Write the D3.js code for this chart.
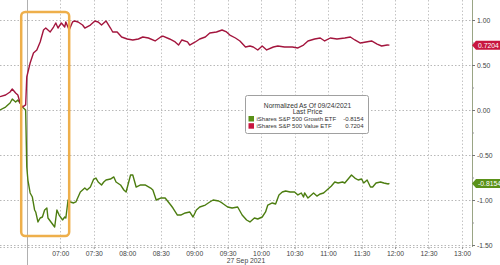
<!DOCTYPE html>
<html>
<head>
<meta charset="utf-8">
<script src="https://cdn.jsdelivr.net/npm/d3@7"></script>
<style>
  html, body { margin: 0; padding: 0; background: #fff; }
  svg { display: block; font-family: "Liberation Sans", Arial, sans-serif; }
</style>
</head>
<body>
<div id="chart"></div>
<script>
// values, 27 Sep 2021, normalized as of 09/24/2021
const valueSeries = [
  ["06:06", 0.148], ["06:11", 0.167], ["06:15", 0.20], ["06:17", 0.233], ["06:20", 0.189],
  ["06:22", 0.167], ["06:24", 0.078], ["06:26", 0.033], ["06:29", 0.056], ["06:30", 0.367],
  ["06:33", 0.522], ["06:36", 0.633], ["06:39", 0.667], ["06:42", 0.756], ["06:45", 0.889],
  ["06:47", 0.911], ["06:51", 0.867], ["06:54", 0.922], ["06:56", 0.967], ["06:58", 0.911],
  ["07:01", 0.967], ["07:04", 0.922], ["07:05", 0.978], ["07:08", 0.889], ["07:11", 0.978],
  ["07:13", 0.989], ["07:16", 0.978], ["07:20", 0.944], ["07:22", 0.911], ["07:27", 0.944],
  ["07:31", 0.989], ["07:34", 0.978], ["07:37", 0.944], ["07:41", 0.989], ["07:45", 0.911],
  ["07:47", 0.867], ["07:51", 0.867], ["07:55", 0.811], ["08:00", 0.789], ["08:05", 0.778],
  ["08:10", 0.789], ["08:14", 0.811], ["08:19", 0.80], ["08:25", 0.767], ["08:30", 0.811],
  ["08:32", 0.822], ["08:38", 0.789], ["08:43", 0.756], ["08:46", 0.722], ["08:49", 0.778],
  ["08:54", 0.756], ["08:56", 0.722], ["09:01", 0.756], ["09:05", 0.789], ["09:10", 0.811],
  ["09:14", 0.856], ["09:20", 0.867], ["09:25", 0.889], ["09:29", 0.867], ["09:32", 0.833],
  ["09:37", 0.80], ["09:41", 0.767], ["09:46", 0.70], ["09:50", 0.711], ["09:53", 0.70],
  ["09:57", 0.667], ["10:01", 0.711], ["10:05", 0.667], ["10:11", 0.70], ["10:15", 0.711],
  ["10:21", 0.70], ["10:28", 0.70], ["10:33", 0.689], ["10:38", 0.722], ["10:42", 0.767],
  ["10:48", 0.789], ["10:53", 0.80], ["10:57", 0.767], ["11:02", 0.80], ["11:08", 0.789],
  ["11:15", 0.80], ["11:20", 0.811], ["11:24", 0.778], ["11:29", 0.744], ["11:34", 0.756],
  ["11:39", 0.767], ["11:44", 0.733], ["11:48", 0.711], ["11:53", 0.722], ["11:55", 0.7204]
];

const growthSeries = [
  ["06:06", 0.00], ["06:11", 0.033], ["06:15", 0.078], ["06:17", 0.122], ["06:20", 0.089],
  ["06:22", 0.111], ["06:24", 0.078], ["06:26", 0.033], ["06:29", 0.00], ["06:30", -0.633],
  ["06:31", -0.778], ["06:33", -0.922], ["06:35", -0.967], ["06:37", -1.111], ["06:38", -1.133],
  ["06:40", -1.244], ["06:42", -1.20], ["06:44", -1.189], ["06:46", -1.111], ["06:48", -1.089],
  ["06:49", -1.20], ["06:51", -1.233], ["06:53", -1.267], ["06:55", -1.30], ["06:57", -1.111],
  ["06:59", -1.167], ["07:02", -1.222], ["07:04", -1.189], ["07:05", -1.20], ["07:07", -1.00],
  ["07:09", -1.022], ["07:12", -1.033], ["07:14", -1.022], ["07:18", -0.911], ["07:22", -0.867],
  ["07:24", -0.889], ["07:27", -0.856], ["07:30", -0.767], ["07:32", -0.756], ["07:34", -0.80],
  ["07:37", -0.833], ["07:39", -0.80], ["07:41", -0.778], ["07:45", -0.767], ["07:48", -0.744],
  ["07:50", -0.80], ["07:54", -0.833], ["07:57", -0.889], ["07:59", -0.911], ["08:03", -0.722],
  ["08:05", -0.722], ["08:08", -0.856], ["08:12", -0.833], ["08:16", -0.833], ["08:21", -0.867],
  ["08:23", -0.889], ["08:26", -1.00], ["08:30", -0.978], ["08:34", -0.978], ["08:39", -1.056],
  ["08:41", -1.089], ["08:45", -1.167], ["08:48", -1.167], ["08:52", -1.144], ["08:56", -1.133],
  ["08:59", -1.189], ["09:02", -1.111], ["09:05", -1.078], ["09:10", -1.056], ["09:14", -1.022],
  ["09:17", -1.00], ["09:22", -1.011], ["09:25", -1.033], ["09:30", -1.078], ["09:34", -1.089],
  ["09:39", -1.078], ["09:43", -1.167], ["09:47", -1.222], ["09:50", -1.244], ["09:54", -1.20],
  ["09:57", -1.211], ["10:01", -1.189], ["10:04", -1.133], ["10:06", -1.056], ["10:10", -1.033],
  ["10:13", -1.044], ["10:16", -0.944], ["10:19", -0.911], ["10:22", -0.90], ["10:26", -0.911],
  ["10:30", -0.911], ["10:33", -0.944], ["10:36", -0.922], ["10:38", -0.967], ["10:39", -0.922],
  ["10:42", -0.978], ["10:45", -0.944], ["10:47", -0.922], ["10:50", -0.956], ["10:53", -0.933],
  ["10:56", -0.922], ["10:57", -0.911], ["11:00", -0.878], ["11:03", -0.844], ["11:06", -0.80],
  ["11:09", -0.811], ["11:13", -0.80], ["11:15", -0.811], ["11:18", -0.767], ["11:21", -0.722],
  ["11:24", -0.756], ["11:27", -0.778], ["11:30", -0.767], ["11:32", -0.811], ["11:35", -0.778],
  ["11:38", -0.856], ["11:40", -0.856], ["11:43", -0.811], ["11:47", -0.80], ["11:50", -0.811],
  ["11:54", -0.822], ["11:55", -0.8154]
];

const timeTicks = ["07:00", "07:30", "08:00", "08:30", "09:00", "09:30", "10:00",
                   "10:30", "11:00", "11:30", "12:00", "12:30", "13:00"];
const valueTicks = [1.0, 0.5, 0.0, -0.5, -1.0, -1.5];
const legendTitle = ["Normalized As Of 09/24/2021", "Last Price"];
const seriesNames = ["iShares S&P 500 Growth ETF", "iShares S&P 500 Value ETF"];
const lastValues = [-0.8154, 0.7204];
const dateLabel = "27 Sep 2021";
const highlight = { from: "06:25", to: "07:08", top: 1.09, bottom: -1.40 };

const width = 500, height = 265;
const plotRight = 472, plotBottom = 247;
const parse = d3.timeParse("%H:%M");

const x = d3.scaleTime()
            .domain([parse("06:06"), parse("13:09")])
            .range([0, plotRight]);
const y = d3.scaleLinear()
            .domain([-1.5, 1.0])
            .range([245, 20]);

const svg = d3.select("#chart")
              .append("svg")
              .attr("width", width)
              .attr("height", height);

// grid
svg.append("g")
   .selectAll("line")
   .data(valueTicks)
   .join("line")
   .attr("x1", 0).attr("x2", plotRight)
   .attr("y1", d => y(d) + 0.5).attr("y2", d => y(d) + 0.5)
   .attr("stroke", "#b8b8b8")
   .attr("stroke-dasharray", "1.5,2");

svg.append("g")
   .selectAll("line")
   .data(timeTicks)
   .join("line")
   .attr("x1", d => Math.round(x(parse(d))) + 0.5)
   .attr("x2", d => Math.round(x(parse(d))) + 0.5)
   .attr("y1", 0).attr("y2", plotBottom)
   .attr("stroke", "#c4c4c4")
   .attr("stroke-dasharray", "1.5,2");

// bottom axis line + session separator at the open
svg.append("line")
   .attr("x1", 0).attr("x2", plotRight)
   .attr("y1", plotBottom + 0.5).attr("y2", plotBottom + 0.5)
   .attr("stroke", "#b8b8b8")
   .attr("stroke-dasharray", "1.5,2");

svg.append("line")
   .attr("x1", Math.round(x(parse("06:30"))) + 0.5)
   .attr("x2", Math.round(x(parse("06:30"))) + 0.5)
   .attr("y1", 0).attr("y2", height)
   .attr("stroke", "#b0b0b0");

// bottom ticks and labels
const xAxis = d3.axisBottom(x)
                .tickValues(timeTicks.map(parse))
                .tickFormat(d3.timeFormat("%H:%M"))
                .tickSize(2);
const gx = svg.append("g")
              .attr("transform", `translate(0,${plotBottom})`)
              .call(xAxis);
gx.select(".domain").remove();
gx.selectAll(".tick line").attr("stroke", "#999");
gx.selectAll("text")
  .attr("y", 4)
  .attr("fill", "#444")
  .style("font-size", "6.8px");

svg.append("text")
   .attr("x", x(parse("09:30")) - 1)
   .attr("y", 263)
   .attr("fill", "#444")
   .style("font-size", "6.8px")
   .text(dateLabel);

// right axis
const yAxis = d3.axisRight(y)
                .tickValues(valueTicks)
                .tickFormat(d => d.toFixed(2))
                .tickSize(3)
                .tickPadding(2);
const gy = svg.append("g")
              .attr("transform", `translate(${plotRight},0)`)
              .call(yAxis);
gy.select(".domain").attr("d", `M0.5,0V${plotBottom}`).attr("stroke", "#9aa585");
gy.selectAll(".tick line").attr("stroke", "#777").attr("x1", 0);
gy.selectAll("text").attr("fill", "#444").style("font-size", "6.8px");

const minor = d3.range(-1.25, 1.2, 0.5);
svg.append("g")
   .selectAll("line")
   .data(minor)
   .join("line")
   .attr("x1", plotRight).attr("x2", plotRight + 2)
   .attr("y1", d => y(d) + 0.5).attr("y2", d => y(d) + 0.5)
   .attr("stroke", "#999");

// lines
const line = d3.line()
               .x(d => x(parse(d[0])))
               .y(d => y(d[1]));

const colors = ["#4c7d10", "#a3153d"];

svg.append("path")
   .datum(growthSeries)
   .attr("fill", "none")
   .attr("stroke", colors[0])
   .attr("stroke-width", 1.4)
   .attr("stroke-linejoin", "round")
   .attr("d", line);

svg.append("path")
   .datum(valueSeries)
   .attr("fill", "none")
   .attr("stroke", colors[1])
   .attr("stroke-width", 1.4)
   .attr("stroke-linejoin", "round")
   .attr("d", line);

// highlight box
svg.append("rect")
   .attr("x", x(parse(highlight.from)))
   .attr("y", y(highlight.top))
   .attr("width", x(parse(highlight.to)) - x(parse(highlight.from)))
   .attr("height", y(highlight.bottom) - y(highlight.top))
   .attr("rx", 4)
   .attr("fill", "none")
   .attr("stroke", "#eeaf4b")
   .attr("stroke-width", 2.5);

// last value tags
const tags = svg.append("g")
                .selectAll("g")
                .data(lastValues)
                .join("g")
                .attr("transform", d => `translate(${plotRight},${y(d)})`);
tags.append("path")
    .attr("d", "M0,0L4,-4.5H28V4.5H4Z")
    .attr("fill", (d, i) => i === 0 ? "#5a9118" : "#c8163f");
tags.append("text")
    .attr("x", 6)
    .attr("y", 2.4)
    .attr("fill", "#fff")
    .style("font-size", "6.8px")
    .text(d => d.toFixed(4));

// legend
const legend = svg.append("g").attr("transform", "translate(245.5,95.5)");
legend.append("rect")
      .attr("width", 123).attr("height", 38)
      .attr("rx", 2)
      .attr("fill", "#fff")
      .attr("stroke", "#a0a0a0");
legend.selectAll(".title")
      .data(legendTitle)
      .join("text")
      .attr("class", "title")
      .attr("x", 62)
      .attr("y", (d, i) => 12 + i * 6.8)
      .attr("text-anchor", "middle")
      .attr("fill", "#333")
      .style("font-size", "6.7px")
      .text(d => d);
const rows = legend.selectAll(".row")
                   .data(seriesNames)
                   .join("g")
                   .attr("class", "row")
                   .attr("transform", (d, i) => `translate(0,${25.5 + i * 7.2})`);
rows.append("rect")
    .attr("x", 3).attr("y", -5)
    .attr("width", 5.5).attr("height", 5.5)
    .attr("fill", (d, i) => i === 0 ? "#5a9118" : "#c8163f");
rows.append("text")
    .attr("x", 11)
    .attr("fill", "#333")
    .style("font-size", "6px")
    .text(d => d);
rows.append("text")
    .attr("x", 118)
    .attr("text-anchor", "end")
    .attr("fill", "#333")
    .style("font-size", "6px")
    .text((d, i) => lastValues[i].toFixed(4));
</script>
</body>
</html>
